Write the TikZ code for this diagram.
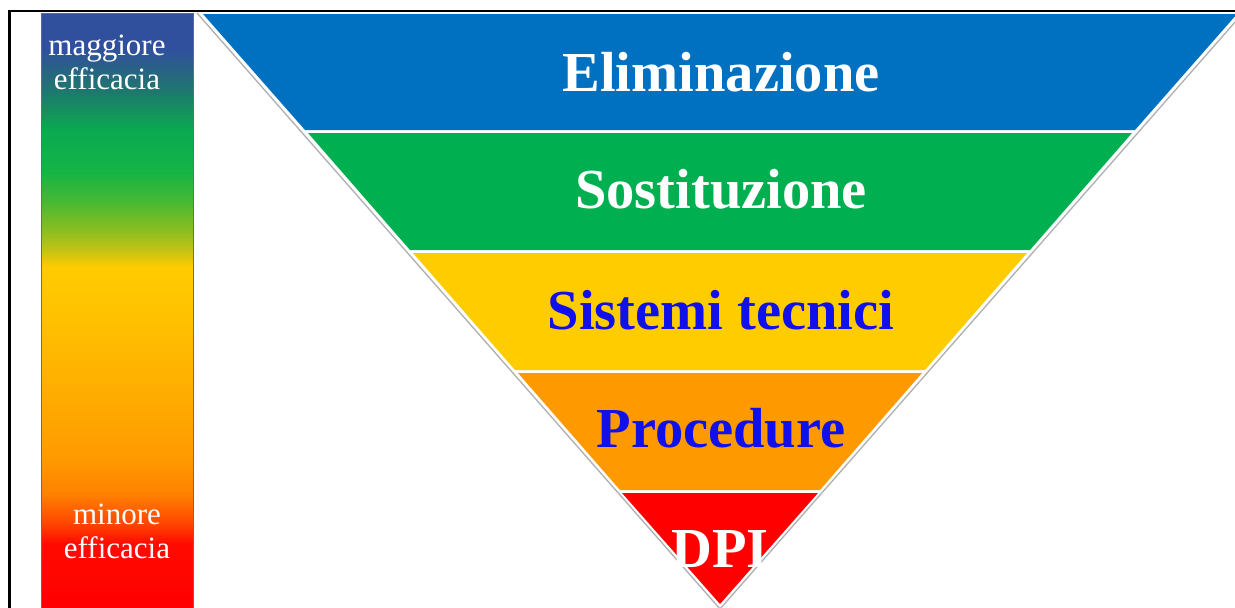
\documentclass[tikz,border=0pt]{standalone}
\usepackage{fontspec}
\setmainfont{Liberation Serif}
\definecolor{cBlue}{RGB}{0,112,192}
\definecolor{cGreen}{RGB}{0,176,80}
\definecolor{cYellow}{RGB}{255,204,0}
\definecolor{cOrange}{RGB}{255,153,0}
\definecolor{cRed}{RGB}{255,0,0}
\definecolor{cText}{RGB}{16,16,235}
\definecolor{cOutline}{RGB}{175,175,175}
\definecolor{cBarEdge}{RGB}{90,105,160}
\definecolor{g0}{RGB}{255,0,0}
\definecolor{g1}{RGB}{255,10,0}
\definecolor{g2}{RGB}{255,70,0}
\definecolor{g3}{RGB}{255,130,0}
\definecolor{g4}{RGB}{255,155,0}
\definecolor{g5}{RGB}{255,190,0}
\definecolor{g6}{RGB}{255,204,0}
\definecolor{g7}{RGB}{200,195,20}
\definecolor{g8}{RGB}{140,190,30}
\definecolor{g9}{RGB}{70,185,50}
\definecolor{g10}{RGB}{20,180,70}
\definecolor{g11}{RGB}{10,170,80}
\definecolor{g12}{RGB}{30,120,110}
\definecolor{g13}{RGB}{40,100,130}
\definecolor{g14}{RGB}{48,80,158}
\pgfdeclareverticalshading{effbar}{100bp}{%
color(0bp)=(g0); color(25bp)=(g0); color(30.7bp)=(g1); color(32.4bp)=(g2);
color(34.9bp)=(g3); color(38bp)=(g4); color(48.4bp)=(g5); color(53.8bp)=(g6);
color(55.1bp)=(g7); color(56.8bp)=(g8); color(59.3bp)=(g9); color(61.8bp)=(g10);
color(65.2bp)=(g11); color(68.5bp)=(g12); color(70.2bp)=(g13); color(72bp)=(g14);
color(75bp)=(g14); color(100bp)=(g14)}
\tikzset{
  bandlabel/.style={anchor=base, font=\fontsize{56.5}{60}\selectfont\bfseries, inner sep=0pt},
  sidelabel/.style={anchor=base, text=white, font=\fontsize{31}{34}\selectfont, inner sep=0pt},
}
\begin{document}
\begin{tikzpicture}[x=1pt,y=-1pt]
\useasboundingbox (0,0) rectangle (1235,608);
\fill[white] (0,0) rectangle (1235,608);
% frame
\draw[line width=2.2pt, black] (9.5,610) -- (9.5,11) -- (1240,11);
% efficacy bar
\shade[shading=effbar] (41,13) rectangle (193,612);
\draw[cBarEdge, line width=1pt] (41,612) -- (41,13) -- (193,13) -- (193,612);
\node[sidelabel] (mag) at (107,55) {maggiore};
\node[sidelabel] (eff1) at (107,89) {efficacia};
\node[sidelabel] (min) at (117,524) {minore};
\node[sidelabel] (eff2) at (117,558) {efficacia};
% triangle outline
\draw[cOutline, line width=1.3pt] (197,13) -- (720,609) -- (1243,13);
% bands
\fill[cBlue]   (203,14) -- (305,130) -- (1135,130) -- (1237,14) -- cycle;
\fill[cGreen]  (308,133) -- (410,250) -- (1030,250) -- (1132,133) -- cycle;
\fill[cYellow] (413,253) -- (515,370) -- (925,370) -- (1027,253) -- cycle;
\fill[cOrange] (518,373) -- (620,490) -- (820,490) -- (922,373) -- cycle;
\fill[cRed]    (622,493) -- (720,604) -- (818,493) -- cycle;
% labels
\node[bandlabel, text=white] (elim) at (721,91) {Eliminazione};
\node[bandlabel, text=white] (sost) at (721,208) {Sostituzione};
\node[bandlabel, text=cText] (sist) at (721,329) {Sistemi tecnici};
\node[bandlabel, text=cText] (proc) at (721,447) {Procedure};
\node[bandlabel, text=white] (dpi) at (720,567) {DPI};
\end{tikzpicture}
\end{document}
